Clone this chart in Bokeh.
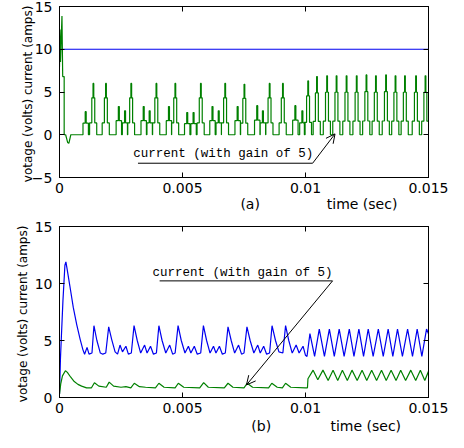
from bokeh.plotting import figure
from bokeh.layouts import column
from bokeh.models import Range1d, FixedTicker, LinearAxis, Label, Arrow, OpenHead
from bokeh.embed import file_html
from bokeh.resources import INLINE

# ---------------- data (time in ms, converted to s for plotting) ----------------
x_ticks = [0, 0.005, 0.01, 0.015]
x_tick_labels = ["0", "0.005", "0.01", "0.015"]
y_ticks_a = [-5, 0, 5, 10, 15]
y_ticks_b = [0, 5, 10, 15]
y_label = "votage (volts)  current (amps)"
x_label = "time (sec)"
annot_text = "current (with gain of 5)"

# panel (a): voltage (blue) and current x5 (green)
volt_a_t = [0, 15]
volt_a_v = [10, 10]
cur_a_start_t = [0, 0.02, 0.04, 0.10, 0.13, 0.19, 0.19, 0.25, 0.33, 0.38, 0.46, 0.90]
cur_a_start_v = [7.9, 12.3, 8.5, 13.9, 6.8, 6.8, 0, 0, -0.9, -1.0, 0, 0]
tall_pulse_t = [1.373, 1.885, 2.912, 3.935, 4.704, 5.742, 6.731, 7.512, 8.538, 9.077,
                10.104, 10.462, 10.873, 11.258, 11.665, 12.077, 12.473, 12.858, 13.269,
                13.654, 14.038, 14.488, 14.873]
tall_pulse_peak = [6.0, 6.0, 6.0, 6.0, 6.0, 6.0, 6.0, 5.9, 6.0, 6.0,
                   6.3, 6.8, 6.9, 6.9, 6.9, 6.9, 7.0, 6.9, 7.0, 6.9, 6.9, 6.9, 6.9]
small_pulse_t = [1.065, 2.412, 2.665, 3.423, 3.665, 4.450, 5.192, 5.450, 6.219, 6.473,
                 7.242, 8.038, 8.269, 9.588, 9.873]
small_pulse_peak = [2.7, 3.3, 2.8, 3.3, 2.8, 3.3, 2.6, 2.6, 3.3, 2.8,
                    3.3, 3.4, 2.8, 3.4, 2.8]
# staircase shape of one pulse (offset in ms, fraction of the pulse peak)
tall_shape_dt = [-0.15, -0.15, -0.06, -0.06, -0.01, -0.01, 0.02, 0.02, 0.06, 0.06, 0.14, 0.14]
tall_shape_f = [0, 0.23, 0.23, 0.72, 0.72, 1, 1, 0.72, 0.72, 0.23, 0.23, 0]
small_shape_dt = [-0.11, -0.11, -0.02, -0.02, 0.02, 0.02, 0.11, 0.11]
small_shape_f = [0, 0.5, 0.5, 1, 1, 0.5, 0.5, 0]

# panel (b): current x5 (blue) and voltage (green)
blue_b_t = [0, 0.04, 0.08, 0.14, 0.22, 0.26, 0.30, 0.42, 0.56, 0.70, 0.84, 0.95, 1.02, 1.12, 1.20,
            1.32, 1.40, 1.52, 1.66, 1.76, 1.88, 2.00, 2.12, 2.26, 2.36, 2.46, 2.56, 2.70, 2.80,
            2.92, 3.03, 3.16, 3.30, 3.46, 3.56, 3.70, 3.82, 3.94, 4.04, 4.17, 4.32, 4.48, 4.60,
            4.70, 4.82, 4.95, 5.10, 5.24, 5.34, 5.48, 5.60, 5.74, 5.85, 5.98, 6.12, 6.26, 6.36,
            6.50, 6.62, 6.74, 6.85, 6.98, 7.12, 7.28, 7.40, 7.50, 7.62, 7.75, 7.90, 8.06, 8.16,
            8.30, 8.42, 8.54, 8.64, 8.78, 8.92, 9.08, 9.19, 9.32, 9.46, 9.62, 9.74, 9.90, 10.00,
            10.06, 10.18, 10.37, 10.56, 10.77, 10.97, 11.17, 11.37, 11.57, 11.78, 11.97, 12.17,
            12.36, 12.55, 12.75, 12.96, 13.16, 13.36, 13.55, 13.74, 13.94, 14.15, 14.35, 14.54,
            14.73, 14.92, 15.00]
blue_b_v = [0.3, 3.5, 5.5, 8.5, 11.6, 11.9, 11.4, 9.8, 7.9, 6.4, 5.1, 4.2, 3.8, 4.4, 3.8,
            3.9, 6.3, 5.0, 3.9, 3.8, 3.9, 6.2, 5.1, 4.0, 3.8, 4.6, 4.0, 4.5, 3.8,
            3.9, 6.3, 5.0, 3.9, 4.6, 3.9, 4.5, 3.8, 3.9, 6.3, 5.0, 3.9, 4.6, 3.8,
            3.9, 6.3, 5.0, 3.9, 4.5, 3.9, 4.5, 3.8, 3.9, 6.3, 5.0, 3.9, 4.5, 3.9,
            4.5, 3.8, 3.9, 6.2, 5.0, 3.9, 4.6, 3.8, 3.9, 6.2, 5.0, 3.9, 4.6, 3.9,
            4.5, 3.8, 3.9, 6.3, 5.0, 4.0, 3.9, 6.3, 5.0, 3.9, 4.6, 3.9, 4.5, 3.7,
            3.6, 5.6, 3.6, 6.0, 3.6, 6.0, 3.6, 6.0, 3.6, 6.0, 3.6, 6.0,
            3.6, 6.0, 3.6, 6.0, 3.6, 6.0, 3.6, 6.0, 3.6, 6.0, 3.6, 6.0,
            3.6, 6.0, 5.6]
green_b_t = [0, 0.05, 0.12, 0.24, 0.32, 0.45, 0.60, 0.75, 0.90, 1.10, 1.30, 1.42, 1.60, 1.90,
             2.02, 2.20, 2.50, 2.70, 2.90, 3.04, 3.25, 3.50, 3.90, 4.04, 4.25, 4.70, 4.83, 5.05,
             5.70, 5.86, 6.05, 6.70, 6.85, 7.05, 7.50, 7.63, 7.85, 8.50, 8.63, 8.85, 9.06, 9.19,
             9.40, 10.00, 10.08, 10.10, 10.31, 10.50, 10.71, 10.92, 11.12, 11.31, 11.50, 11.70,
             11.89, 12.10, 12.30, 12.49, 12.69, 12.89, 13.09, 13.28, 13.48, 13.68, 13.87, 14.07,
             14.28, 14.48, 14.67, 14.85, 15.00]
green_b_v = [0.3, 1.2, 1.9, 2.35, 2.2, 1.8, 1.4, 1.15, 1.0, 0.85, 0.85, 1.3, 1.0, 0.9,
             1.35, 1.0, 0.9, 0.95, 0.85, 1.25, 0.95, 0.9, 0.85, 1.25, 0.9, 0.85, 1.25, 0.9,
             0.85, 1.3, 0.9, 0.85, 1.25, 0.9, 0.85, 1.25, 0.9, 0.85, 1.25, 0.9, 0.85, 1.25,
             0.9, 0.85, 0.85, 1.65, 2.4, 1.55, 2.4, 1.5, 2.4, 1.5, 2.4, 1.5,
             2.4, 1.5, 2.4, 1.5, 2.4, 1.5, 2.4, 1.5, 2.4, 1.5, 2.4, 1.5,
             2.4, 1.5, 2.4, 1.5, 2.3]

# annotation geometry (ms, value)
ann_a_text_xy = (6.66, -2.2)
ann_a_under = ([3.19, 10.29], [-3.33, -3.33])
ann_a_arrow = (10.29, -3.33, 11.2, 0.1)
ann_b_text_xy = (7.44, 10.95)
ann_b_under = ([4.07, 11.1], [10.23, 10.23])
ann_b_arrow = (11.1, 10.23, 7.6, 1.1)
# positions (ms) of the sub-caption and of the time label under each panel
sub_a_ms, time_a_ms = 7.75, 12.3
sub_b_ms, time_b_ms = 8.2, 12.45

BLUE = "#0000f0"
GREEN = "#008000"
TICK_FONT = "DejaVu Sans"


def ms(v):
    return [t / 1000.0 for t in v]


def build_pulse_train():
    t_out = list(cur_a_start_t)
    v_out = list(cur_a_start_v)
    events = [(t, pk, tall_shape_dt, tall_shape_f) for t, pk in zip(tall_pulse_t, tall_pulse_peak)]
    events += [(t, pk, small_shape_dt, small_shape_f) for t, pk in zip(small_pulse_t, small_pulse_peak)]
    events.sort(key=lambda e: e[0])
    for t0, pk, dts, fs in events:
        for dt, f in zip(dts, fs):
            t_out.append(t0 + dt)
            v_out.append(pk * f)
    t_out.append(15.0)
    v_out.append(0)
    return t_out, v_out


def plain_axis(ticker):
    return LinearAxis(ticker=ticker, major_label_text_font_size="1px", major_label_text_color=None,
                      major_label_standoff=0, major_tick_in=5, major_tick_out=0,
                      minor_tick_in=0, minor_tick_out=0, minor_tick_line_color=None,
                      axis_line_color="black", major_tick_line_color="black")


def make_fig(width, height, left, right, top, bottom, y0, y1, yticks, label_standoff,
             sub, sub_ms, time_ms, row_standoff):
    p = figure(width=width, height=height, x_range=Range1d(0, 0.015), y_range=Range1d(y0, y1),
               output_backend="svg", toolbar_location=None,
               min_border_left=left, min_border_right=right,
               min_border_top=top, min_border_bottom=bottom)
    p.xgrid.visible = False
    p.ygrid.visible = False
    p.outline_line_color = "black"
    p.outline_line_width = 1
    p.background_fill_color = "white"
    p.border_fill_color = "white"
    xt = FixedTicker(ticks=x_ticks)
    yt = FixedTicker(ticks=yticks)
    p.xaxis.ticker = xt
    p.yaxis.ticker = yt
    p.xaxis.major_label_overrides = {t: s for t, s in zip(x_ticks, x_tick_labels)}
    p.yaxis.axis_label = y_label
    p.yaxis.axis_label_text_font = TICK_FONT
    p.yaxis.axis_label_text_font_size = "12px"
    p.yaxis.axis_label_text_font_style = "normal"
    p.yaxis.axis_label_text_color = "black"
    p.yaxis.axis_label_standoff = label_standoff
    for ax in (p.xaxis[0], p.yaxis[0]):
        ax.major_tick_in = 5
        ax.major_tick_out = 0
        ax.minor_tick_in = 0
        ax.minor_tick_out = 0
        ax.minor_tick_line_color = None
        ax.axis_line_color = "black"
        ax.major_tick_line_color = "black"
        ax.major_label_text_font = TICK_FONT
        ax.major_label_text_font_size = "14px"
        ax.major_label_text_color = "black"
    p.xaxis.major_label_standoff = 5
    p.yaxis.major_label_standoff = 7
    p.add_layout(plain_axis(xt), "above")
    p.add_layout(plain_axis(yt), "right")
    # second row under the axis: sub-caption and time label
    sx, tx = sub_ms / 1000.0, time_ms / 1000.0
    row_ax = LinearAxis(ticker=FixedTicker(ticks=[sx, tx]),
                        major_label_overrides={sx: sub, tx: x_label},
                        major_tick_in=0, major_tick_out=0, minor_tick_in=0, minor_tick_out=0,
                        minor_tick_line_color=None, axis_line_color=None,
                        major_tick_line_color=None, major_label_standoff=row_standoff,
                        major_label_text_font=TICK_FONT, major_label_text_font_size="14px",
                        major_label_text_color="black")
    p.add_layout(row_ax, "below")
    return p


def add_annotation(p, text_xy, under, arrow):
    p.add_layout(Label(x=text_xy[0] / 1000, y=text_xy[1], text=annot_text,
                       text_font="Liberation Mono", text_font_size="12.5px",
                       text_align="center", text_baseline="middle", text_color="black"))
    p.line(ms(under[0]), under[1], line_color="black", line_width=1)
    p.add_layout(Arrow(end=OpenHead(size=9, line_width=1, line_color="black"),
                       x_start=arrow[0] / 1000, y_start=arrow[1],
                       x_end=arrow[2] / 1000, y_end=arrow[3],
                       line_color="black", line_width=1))


# panel (a)
pa = make_fig(448, 219, 52, 20, 6, 42, -5, 15, y_ticks_a, -6, "(a)", sub_a_ms, time_a_ms, 0)
pa.line(ms(volt_a_t), volt_a_v, line_color=BLUE, line_width=1.2)
ga_t, ga_v = build_pulse_train()
pa.line(ms(ga_t), ga_v, line_color=GREEN, line_width=1.2)
add_annotation(pa, ann_a_text_xy, ann_a_under, ann_a_arrow)

# panel (b)
pb = make_fig(448, 221, 59, 20, 7, 43, 0, 15, y_ticks_b, 2, "(b)", sub_b_ms, time_b_ms, 2)
pb.line(ms(blue_b_t), blue_b_v, line_color=BLUE, line_width=1.2)
pb.line(ms(green_b_t), green_b_v, line_color=GREEN, line_width=1.2)
add_annotation(pb, ann_b_text_xy, ann_b_under, ann_b_arrow)

layout = column(pa, pb, spacing=0)
open("out.html", "w").write(file_html(layout, INLINE))
